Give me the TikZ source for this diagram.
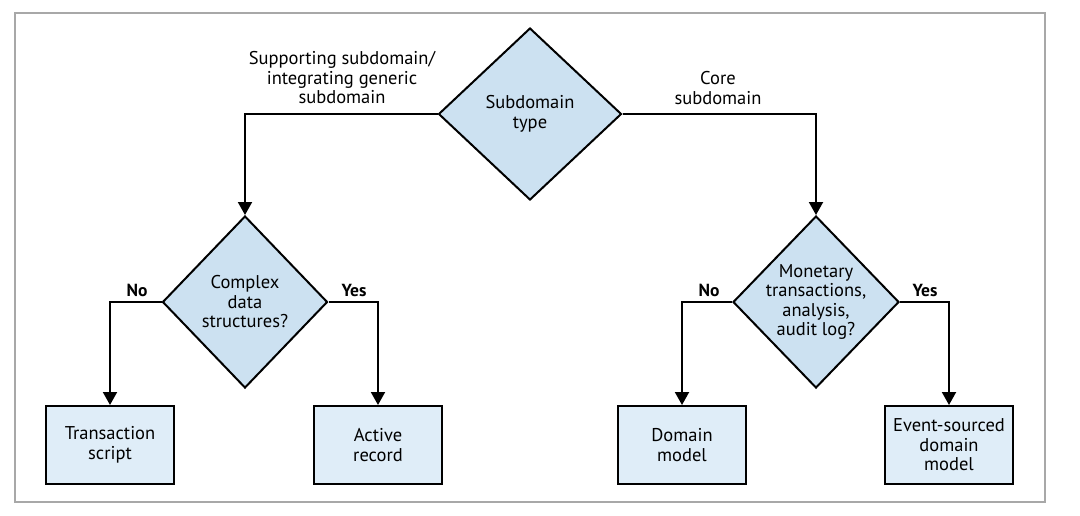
\documentclass[tikz,border=0pt]{standalone}
\usepackage{fontspec}
\setmainfont{PT Sans}
\usepackage{tikz}
\usetikzlibrary{shapes.geometric, positioning, arrows.meta}

\definecolor{decisionblue}{HTML}{CCE1F1}
\definecolor{boxblue}{HTML}{DFEDF8}
\definecolor{framegray}{HTML}{A8A8A8}

\begin{document}
\begin{tikzpicture}[
		x=1pt, y=-1pt,
		font=\fontsize{18.5}{19.5}\selectfont,
		% Decision diamond
		decision/.style={
			diamond,
			draw=black,
			fill=decisionblue,
			line width=2pt,
			inner sep=0pt
		},
		% Text inside a diamond
		question/.style={
			align=center,
			inner sep=0pt
		},
		% Outcome box
		outcome/.style={
			rectangle,
			draw=black,
			fill=boxblue,
			line width=2pt,
			minimum width=128pt,
			minimum height=78pt,
			align=center,
			inner sep=0pt
		},
		% Connector with filled head
		flow/.style={
			line width=2pt,
			-{Triangle[width=14pt,length=13pt]}
		},
		% Branch labels
		answer/.style={
			font=\fontsize{17.5}{19.5}\selectfont\bfseries
		},
		branch/.style={
			align=center,
			inner sep=0pt
		}
		]
		
		% --- Frame ---
		\useasboundingbox (0,0) rectangle (1080,515);
		\draw[framegray, line width=1.5pt] (15,13) rectangle (1045,502);
		
		% --- Decisions ---
		\node[decision, minimum width=183pt, minimum height=172pt] (type) at (530,114) {};
		\node[question] at (type) {Subdomain\\type};
		
		\node[decision, minimum width=165pt, minimum height=172pt] (complex) at (245,302) {};
		\node[question] at (complex) {Complex\\data\\structures?};
		
		\node[decision, minimum width=166pt, minimum height=172pt] (money) at (816,302) {};
		\node[question] at (money) {Monetary\\transactions,\\analysis,\\audit log?};
		
		% --- Outcomes ---
		\node[outcome] (script) at (110,445) {Transaction\\script};
		\node[outcome] (record) at (378,445) {Active\\record};
		\node[outcome] (model) at (682,445) {Domain\\model};
		\node[outcome] (events) at (949,445) {Event-sourced\\domain\\model};
		
		% --- Connectors ---
		\draw[flow] (type.west) -| (complex.north);
		\draw[flow] (type.east) -| (money.north);
		\draw[flow] (complex.west) -| (script.north);
		\draw[flow] (complex.east) -| (record.north);
		\draw[flow] (money.west) -| (model.north);
		\draw[flow] (money.east) -| (events.north);
		
		% --- Labels ---
		\node[branch] (supporting) at (342,78) {Supporting subdomain/\\integrating generic\\subdomain};
		\node[branch] (core) at (718,88) {Core\\subdomain};
		\node[answer] (cno) at (137,290) {No};
		\node[answer] (cyes) at (354,290) {Yes};
		\node[answer] (mno) at (709,290) {No};
		\node[answer] (myes) at (925,290) {Yes};
		
	\end{tikzpicture}
\end{document}
